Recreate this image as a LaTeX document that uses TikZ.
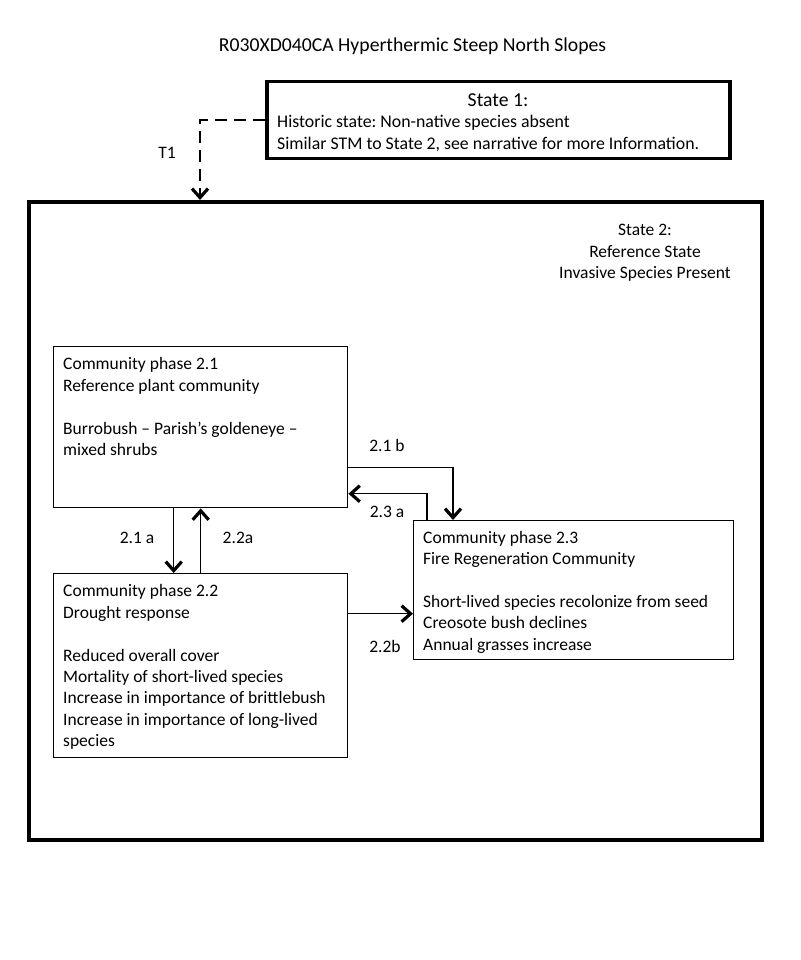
\documentclass[tikz,border=0pt]{standalone}
\usepackage{fontspec}
\setmainfont{Carlito}
\usetikzlibrary{arrows.meta}
\frenchspacing

\tikzset{
  stm/.style={font=\fontsize{17.5}{21.4}\selectfont},
  big/.style={font=\fontsize{19.7}{23}\selectfont},
  txt/.style={stm,anchor=north west,inner sep=0pt,align=left},
  phase/.style={draw,line width=1.4pt,anchor=north west,inner sep=0pt},
  statebox/.style={draw,line width=3.5pt,anchor=north west,inner sep=0pt},
  link/.style={line width=1.5pt,-{Straight Barb[length=9pt,width=16pt,line width=3.2pt]}},
}

\begin{document}
\begin{tikzpicture}[x=1pt,y=-1pt]
\useasboundingbox (0,0) rectangle (800,960);

\node[big] (title) at (412.5,46) {R030XD040CA Hyperthermic Steep North Slopes};

% state 1
\node[statebox,minimum width=463,minimum height=77] (s1) at (265,80) {};
\node[big] (s1head) at (498,100) {State 1:};
\node[txt,font=\fontsize{17.8}{22.8}\selectfont] (s1text) at (277,114.5) {Historic state: Non-native species absent\\Similar STM to State 2, see narrative for more Information.};

% state 2
\node[statebox,minimum width=733,minimum height=638] (s2) at (27,200) {};
\node[stm,align=center] (s2head) at (645,253) {State 2:\\Reference State\\Invasive Species Present};

\node[phase,minimum width=294,minimum height=161] (p21) at (53,346) {};
\node[txt] (p21text) at (63,357.5) {Community phase 2.1\\Reference plant community\\[21.4pt]Burrobush -- Parish’s goldeneye --\\mixed shrubs};

\node[phase,minimum width=294,minimum height=184] (p22) at (53,573) {};
\node[txt] (p22text) at (63,584.5) {Community phase 2.2\\Drought response\\[21.4pt]Reduced overall cover\\Mortality of short-lived species\\Increase in importance of brittlebush\\Increase in importance of long-lived\\species};

\node[phase,minimum width=320,minimum height=139] (p23) at (413,520) {};
\node[txt] (p23text) at (423,531) {Community phase 2.3\\Fire Regeneration Community\\[21.4pt]Short-lived species recolonize from seed\\Creosote bush declines\\Annual grasses increase};

% transitions
\coordinate (t1end) at (200,200);
\draw[link,dash pattern=on 12pt off 7pt] (s1.west) -| (t1end);
\node[stm] (t1) at (167,153) {T1};

\draw[link] ([xshift=-27pt]p21.south) -- ([xshift=-27pt]p22.north);
\draw[link] (p22.north) -- (p21.south);
\node[stm] (l21a) at (137,538) {2.1 a};
\node[stm] (l22a) at (238,538) {2.2a};

\draw[link] ([yshift=-40.5pt]p21.east) -| ([xshift=40pt]p23.north west);
\node[stm] (l21b) at (387,445) {2.1 b};
\draw[link] ([xshift=14pt]p23.north west) |- ([yshift=-66.5pt]p21.east);
\node[stm] (l23a) at (387,512) {2.3 a};

\coordinate (b22) at ([yshift=52pt]p22.east);
\draw[link] (b22) -- (b22 -| p23.west);
\node[stm] (l22b) at (385,646) {2.2b};

\end{tikzpicture}
\end{document}
